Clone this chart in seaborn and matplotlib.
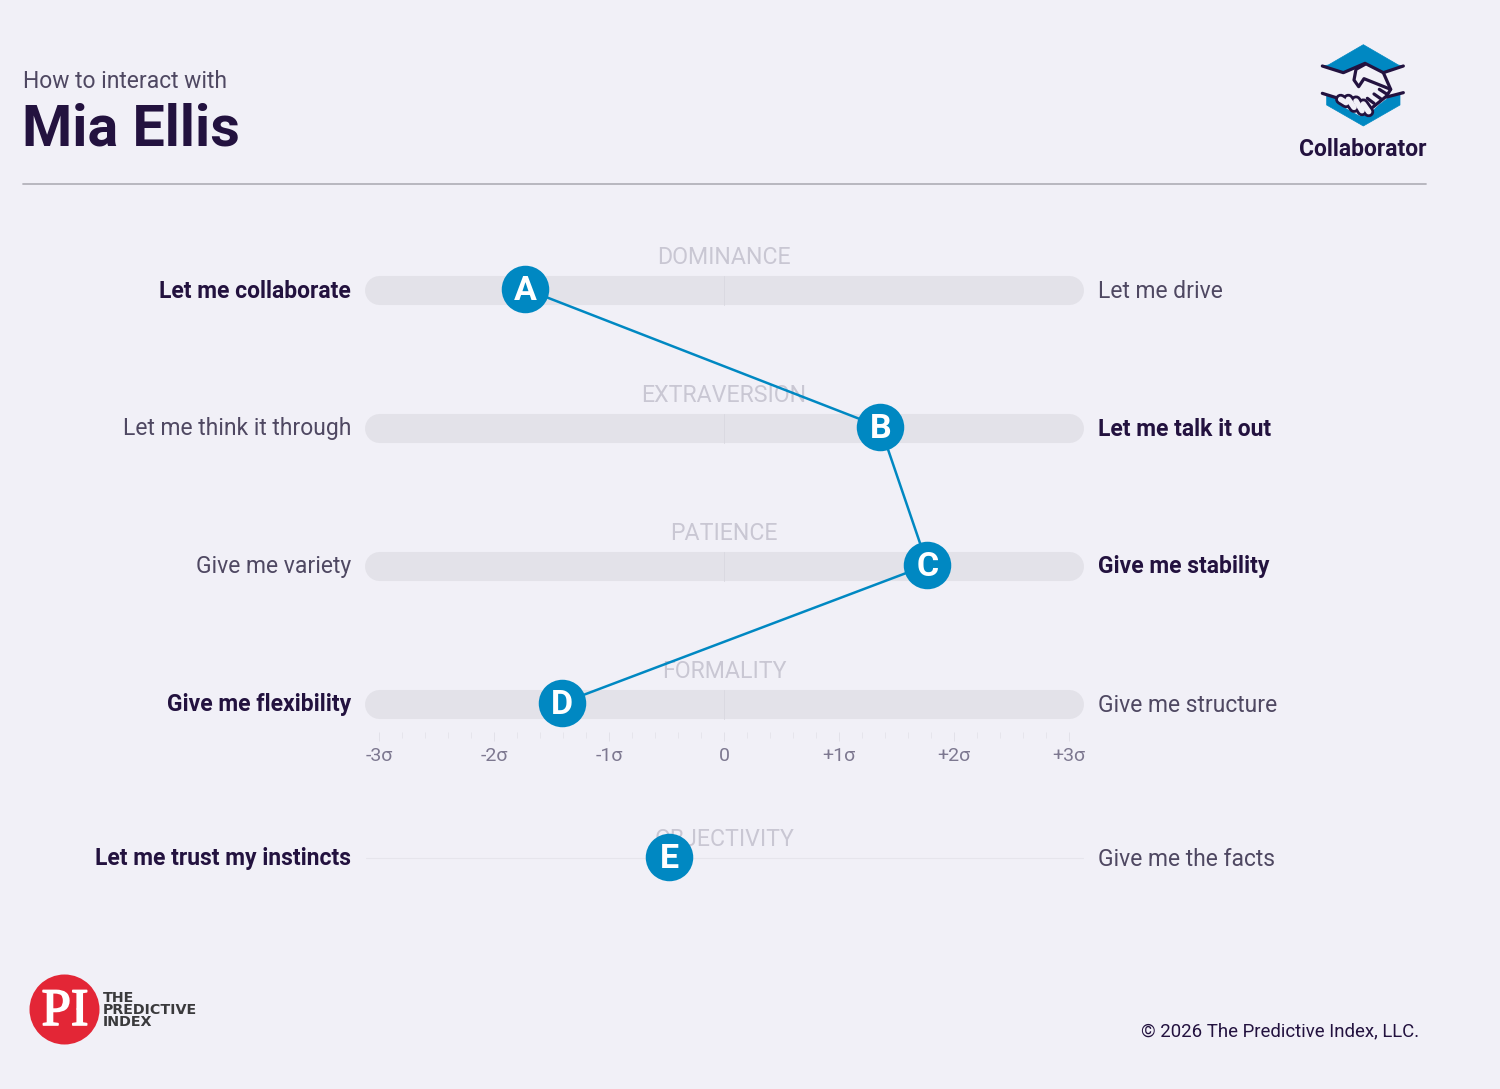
"""Behavioural pattern card: five factor scores on a sigma scale."""

import matplotlib
matplotlib.use("Agg")
import matplotlib.pyplot as plt
from matplotlib.patches import Circle, Polygon
import matplotlib.patheffects as pe
import pandas as pd
import seaborn as sns

# data
factors = ["DOMINANCE", "EXTRAVERSION", "PATIENCE", "FORMALITY", "OBJECTIVITY"]
letters = ["A", "B", "C", "D", "E"]
scores = [-1.73, 1.36, 1.77, -1.41, -0.48]
left_labels = ["Let me collaborate", "Let me think it through", "Give me variety",
               "Give me flexibility", "Let me trust my instincts"]
right_labels = ["Let me drive", "Let me talk it out", "Give me stability",
                "Give me structure", "Give me the facts"]
bold_side = ["left", "right", "right", "left", "left"]
sigma_ticks = [-3, -2, -1, 0, 1, 2, 3]
sigma_labels = ["-3σ", "-2σ", "-1σ", "0", "+1σ", "+2σ", "+3σ"]

BG = "#f1f0f7"
BAR = "#e3e2e9"
BLUE = "#0088c2"
DARK = "#23123f"
SOFT = "#4f4862"
FAINT = "#c9c7d3"
W, H = 1500, 1089
X0, PX_PER_SIGMA = 724.1, 114.9
ROW_PX = [290, 428, 566, 704, 858]  # pixel row of each factor
NAME_GAP_PX = [33, 33, 33, 33, 20]  # factor name sits this far above its row

sns.set_theme(style="white")
plt.rcParams["font.family"] = ["Roboto", "DejaVu Sans"]

fig = plt.figure(figsize=(W / 100, H / 100), dpi=100, facecolor=BG)

# page axes in pixel coordinates, for text and logos
page = fig.add_axes([0, 0, 1, 1], zorder=1)
page.set_xlim(0, W)
page.set_ylim(H, 0)
page.axis("off")

# chart axes: x in sigma, y in pixels
left_px = X0 - 3.5 * PX_PER_SIGMA
right_px = X0 + 3.5 * PX_PER_SIGMA
ax = fig.add_axes([left_px / W, 0, (right_px - left_px) / W, 1], zorder=2)
ax.set_xlim(-3.5, 3.5)
ax.set_ylim(H, 0)
ax.patch.set_alpha(0)
ax.axis("off")

df = pd.DataFrame({"factor": factors, "letter": letters, "score": scores, "row": ROW_PX})
df["row"] = df["row"] - 1

for i, row_y in enumerate(ROW_PX):
    if i < 4:
        ax.plot([-3, 3], [row_y - 0.5, row_y - 0.5], color=BAR, lw=20.9, solid_capstyle="round", zorder=1)
        ax.plot([0, 0], [row_y - 14.5, row_y + 14.5], color="#dad9e1", lw=0.7, zorder=1.5)
    else:
        ax.plot([-3.12, 3.12], [row_y - 0.5, row_y - 0.5], color="#e6e5ec", lw=0.8, zorder=1)
    ax.text(0, row_y - NAME_GAP_PX[i] + 1, factors[i], color=FAINT, fontsize=16.7,
            ha="center", va="center", zorder=2)

sns.lineplot(data=df.iloc[:4], x="score", y="row", ax=ax, color=BLUE, linewidth=1.8,
             sort=False, estimator=None, legend=False, zorder=3)
sns.scatterplot(data=df, x="score", y="row", ax=ax, color=BLUE, s=1170, linewidth=0,
                legend=False, zorder=4)
ax.set_xlabel("")
ax.set_ylabel("")
for _, r in df.iterrows():
    ax.text(r["score"], r["row"] + 1.5, r["letter"], color="white", fontsize=24.5,
            fontweight="bold", ha="center", va="center", zorder=5)

# sigma scale as a real axis
scale = fig.add_axes([left_px / W, 1 - 732 / H, (right_px - left_px) / W, 0.0005], zorder=2)
scale.set_xlim(-3.5, 3.5)
scale.patch.set_alpha(0)
sns.despine(ax=scale, left=True, bottom=True)
scale.set_yticks([])
scale.set_xticks(sigma_ticks)
scale.set_xticklabels(sigma_labels)
scale.set_xticks([t / 5 for t in range(-15, 16) if t % 5], minor=True)
scale.tick_params(axis="x", which="major", length=6.5, width=0.6, color="#e0dfe7", pad=4,
                  labelsize=14, labelcolor="#7d7890", bottom=True)
scale.tick_params(axis="x", which="minor", length=4.3, width=0.6, color="#e4e3ea", bottom=True)

# row end labels
for i, row_y in enumerate(ROW_PX):
    is_left = bold_side[i] == "left"
    page.text(351, row_y + 1, left_labels[i], ha="right", va="center", fontsize=16.5,
              color=DARK if is_left else SOFT, fontweight="bold" if is_left else "normal")
    page.text(1098, row_y + 1, right_labels[i], ha="left", va="center", fontsize=16.5,
              color=SOFT if is_left else DARK, fontweight="normal" if is_left else "bold")

# header
page.text(23, 82, "How to interact with", fontsize=16.45, color=SOFT, va="center")
page.text(22, 130, "Mia Ellis", fontsize=41.3, color=DARK, fontweight="bold", va="center")
page.plot([23, 1426], [183.5, 183.5], color="#b4b3bb", lw=1.3)
page.text(1362.5, 150, "Collaborator", fontsize=16.5, color=DARK, fontweight="bold",
          ha="center", va="center")


def icon(pts):
    return [(1280 + x / 3, 30 + y / 3) for x, y in pts]


def stroke(pts, color=DARK, lw=2.3):
    xs, ys = zip(*icon(pts))
    page.plot(xs, ys, color=color, lw=lw, solid_joinstyle="round", solid_capstyle="round")


# handshake icon
page.add_patch(Polygon(icon([(250, 44), (355, 105), (370, 108), (310, 128), (255, 100), (190, 128),
                             (127, 108), (145, 105)]), fc=BLUE, ec=BLUE, lw=0.5, joinstyle="round"))
page.add_patch(Polygon(icon([(140, 195), (175, 205), (240, 255), (270, 245), (330, 200), (360, 192),
                             (360, 225), (250, 288), (140, 225)]), fc=BLUE, ec=BLUE, lw=0.5))
page.add_patch(Polygon(icon([(230, 118), (255, 103), (310, 128), (334, 185), (275, 245), (240, 258),
                             (180, 225), (175, 205), (225, 170)]), fc=BG, ec="none"))
for line in [
    [(127, 108), (190, 128), (255, 100), (310, 128), (370, 108)],
    [(127, 190), (175, 205)],
    [(320, 201), (370, 188)],
    [(310, 128), (332, 178), (320, 198), (278, 232)],
    [(255, 103), (228, 118), (222, 150), (236, 170), (252, 146), (332, 178)],
    [(282, 192), (302, 206)],
    [(298, 178), (320, 192)],
    [(262, 205), (282, 220)],
]:
    stroke(line)
# fingers of the lower hand: dark sausage with a light core
fingers = [
    [(182, 208), (198, 218)],
    [(205, 208), (222, 232)],
    [(228, 213), (246, 242)],
    [(250, 222), (266, 245)],
]
for finger in fingers:
    stroke(finger, lw=8)
for finger in fingers:
    stroke(finger, color=BG, lw=4)

# PI logo
page.add_patch(Circle((64.5, 1009.5), 35, fc="#e32636", ec="none"))
page.text(65, 1012, "PI", family="Liberation Serif", fontsize=38, color="white", ha="center", va="center",
          path_effects=[pe.withStroke(linewidth=1.2, foreground="white")])
page.add_patch(Circle((79, 1009), 3, fc="white", ec="#e32636", lw=0.8))
for y, word in zip([997.5, 1009.5, 1021.5], ["THE", "PREDICTIVE", "INDEX"]):
    page.text(103, y, word, family="DejaVu Sans", fontsize=10.3, fontweight="bold", color="#3a3a3c",
              va="center")

page.text(1419, 1031, "© 2026 The Predictive Index, LLC.", fontsize=13.45, color=DARK,
          ha="right", va="center")

fig.savefig("out.png", dpi=100, facecolor=BG)
